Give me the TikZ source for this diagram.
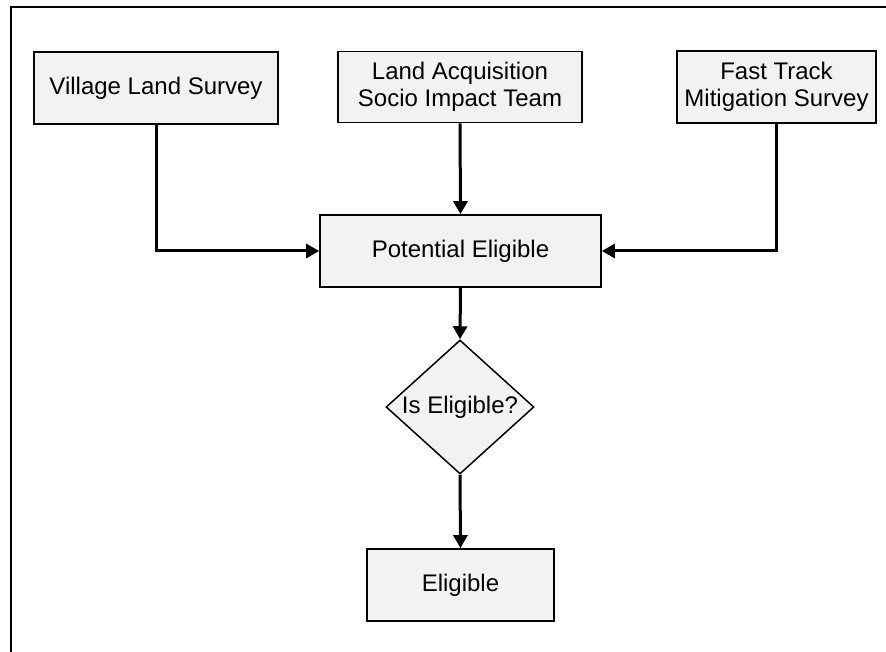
\documentclass[tikz,border=0pt]{standalone}
\usepackage{fontspec}
\setmainfont{Liberation Sans}
\usetikzlibrary{shapes.geometric,arrows.meta}
\definecolor{boxfill}{HTML}{F2F2F2}
\begin{document}
\begin{tikzpicture}[x=1pt,y=-1pt,
  font=\fontsize{24pt}{27.5pt}\selectfont,
  box/.style={draw=black,line width=1.7pt,fill=boxfill,rectangle,inner sep=0pt,
    minimum height=72pt,align=center},
  dec/.style={draw=black,line width=1.5pt,fill=boxfill,diamond,inner sep=0pt,
    aspect=1.1,minimum width=148pt,minimum height=134pt},
  conn/.style={line width=3pt,-{Triangle[length=13pt,width=14pt]}},
  frame/.style={line width=2.6pt}]
\useasboundingbox (0,0) rectangle (886,652);
\draw[frame] (11,652) -- (11,7) -- (886,7);
\node[box,minimum width=244pt] (vls) at (156,88) {Village Land Survey};
\node[box,minimum width=244pt,minimum height=71pt] (lat) at (460,87) {Land Acquisition\\Socio Impact Team};
\node[box,minimum width=199pt] (fts) at (776.5,87) {Fast Track\\Mitigation Survey};
\node[box,minimum width=281pt] (pe) at (460.5,251) {Potential Eligible};
\node[dec] (dia) at (460,407) {Is Eligible?};
\node[box,minimum width=187pt] (el) at (460.5,585) {Eligible};
\draw[conn] (vls.south) |- (pe.west);
\draw[conn] (lat.south) -- (pe.north);
\draw[conn] (fts.south) |- (pe.east);
\draw[conn] (pe.south) -- (dia.north);
\draw[conn] (dia.south) -- (el.north);
\end{tikzpicture}
\end{document}
